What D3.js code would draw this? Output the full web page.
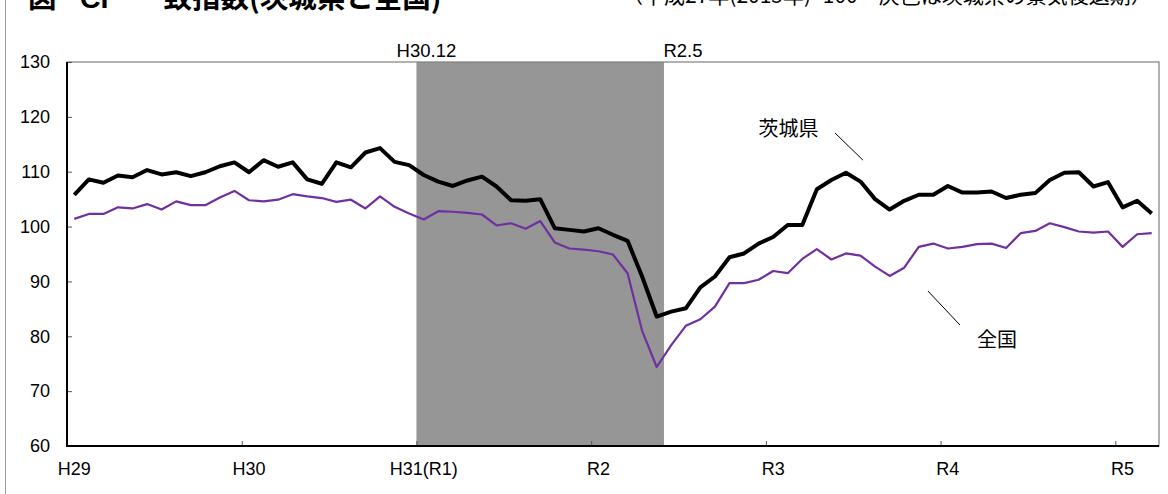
<!DOCTYPE html>
<html><head><meta charset="utf-8">
<script src="https://cdn.jsdelivr.net/npm/d3@7"></script>
<style>
html,body{margin:0;padding:0;background:#fff;}
svg{display:block;}
text{font-family:"Liberation Sans",Arial,"Noto Sans CJK JP",sans-serif;fill:#000;}
.jp{font-family:"Noto Sans CJK JP","Liberation Sans",sans-serif;}
</style>
</head><body>
<svg id="chart" width="1168" height="494"></svg>
<script>
// ---- data ----
const years = ["H29","H30","H31(R1)","R2","R3","R4","R5"];
const monthsPerYear = 12;
const nMonths = 75; // H29.1 .. R5.3
const categories = [];
years.forEach(y => { for (let m = 1; m <= monthsPerYear; m++) categories.push(y + "." + m); });
categories.length = nMonths;

const ibaraki = [105.8,108.6,108.0,109.3,109.0,110.3,109.5,109.9,109.2,109.9,111.0,111.7,
  109.9,112.1,110.9,111.7,108.6,107.8,111.7,110.8,113.5,114.3,111.8,111.2,
  109.4,108.2,107.4,108.4,109.1,107.3,104.8,104.7,105.0,99.7,99.4,99.1,
  99.7,98.5,97.4,90.9,83.6,84.5,85.1,88.9,90.9,94.4,95.1,96.9,
  98.1,100.3,100.3,106.8,108.5,109.8,108.2,105.0,103.1,104.7,105.8,105.8,
  107.4,106.2,106.2,106.4,105.2,105.8,106.1,108.5,109.8,109.9,107.3,108.1,
  103.5,104.7,102.4];
const national = [101.4,102.3,102.3,103.5,103.3,104.1,103.1,104.6,103.9,103.9,105.3,106.5,
  104.8,104.6,104.9,105.9,105.5,105.2,104.5,104.9,103.3,105.5,103.6,102.4,
  101.3,102.8,102.7,102.5,102.2,100.2,100.6,99.6,101.0,97.1,96.0,95.8,
  95.5,94.9,91.5,81.0,74.4,78.4,81.9,83.1,85.4,89.7,89.7,90.3,
  91.9,91.5,94.1,95.9,94.0,95.1,94.7,92.7,91.0,92.5,96.3,96.9,
  96.0,96.3,96.8,96.9,96.1,98.8,99.2,100.6,99.9,99.1,98.9,99.1,
  96.3,98.6,98.8];
const yTicks = [60,70,80,90,100,110,120,130];
const recession = {from: "H30.12", to: "R2.5"};
const recessionLabels = ["H30.12","R2.5"];
const title = ["図","CI","一致指数(茨城県と全国)"];
const subtitle = "（平成27年(2015年)=100　灰色は茨城県の景気後退期）";
const seriesNames = ["茨城県","全国"];

// ---- layout ----
const svg = d3.select("#chart");
const L = 67, R = 1159, T = 62, B = 446;

const x = d3.scaleBand().domain(categories).range([L, R]).paddingInner(0).paddingOuter(0);
const step = x.step();
const xc = c => x(c) + step / 2;
const xi = i => L + i * step; // position in month units (annotations)
const y = d3.scaleLinear().domain([60, 130]).range([B, T]);

// left frame line
svg.append("line").attr("x1",5.5).attr("x2",5.5).attr("y1",0).attr("y2",494)
  .attr("stroke","#9a9a9a").attr("stroke-width",1);

// title
svg.append("text").attr("class","jp").attr("x",28).attr("y",8).attr("font-size",28.5).attr("font-weight","bold").text(title[0]);
svg.append("text").attr("x",80).attr("y",8).attr("font-size",28.5).attr("font-weight","bold").text(title[1]);
svg.append("text").attr("class","jp").attr("x",135).attr("y",8).attr("font-size",28.5).attr("font-weight","bold").text(title[2]);
svg.append("text").attr("class","jp").attr("x",622).attr("y",2.5).attr("font-size",21).text(subtitle);

// recession shading
const s0 = x(recession.from) + step, s1 = x(recession.to) + step;
svg.append("rect").attr("x", s0).attr("y", T).attr("width", s1 - s0).attr("height", B - T).attr("fill", "#969696");
svg.append("text").attr("x", s0 + 10).attr("y", 56.5).attr("text-anchor","middle").attr("font-size",18.5).text(recessionLabels[0]);
svg.append("text").attr("x", s1 + 19).attr("y", 56.5).attr("text-anchor","middle").attr("font-size",18.5).text(recessionLabels[1]);

// frame (top/right)
svg.append("rect").attr("x", L).attr("y", T).attr("width", R - L).attr("height", B - T)
  .attr("fill","none").attr("stroke","#7f7f7f").attr("stroke-width",1.2);

// y axis
const yAxis = d3.axisRight(y).tickValues(yTicks).tickSize(5).tickFormat("");
const gy = svg.append("g").attr("transform",`translate(${L},0)`).call(yAxis);
gy.select(".domain").remove();
gy.selectAll("line").attr("stroke","#555").attr("stroke-width",1);
yTicks.forEach(v => {
  svg.append("text").attr("x",50).attr("y",y(v)).attr("dy","0.35em").attr("text-anchor","end").attr("font-size",18).text(v);
});

// x axis ticks at year boundaries
const yearStarts = years.map((yy,i) => categories[i*12]).filter(Boolean);
const xAxis = d3.axisTop(d3.scaleLinear().domain([L,R]).range([L,R]))
  .tickValues(yearStarts.map(c => x(c))).tickSize(5).tickFormat("");
const gx = svg.append("g").attr("transform",`translate(0,${B})`).call(xAxis);
gx.select(".domain").remove();
gx.selectAll("line").attr("stroke","#555").attr("stroke-width",1);
yearStarts.forEach((c,i) => {
  svg.append("text").attr("x", xc(c)).attr("y", 475).attr("text-anchor","middle").attr("font-size",18).text(years[i]);
});

// axes lines
svg.append("line").attr("x1",L).attr("x2",L).attr("y1",T).attr("y2",B+1).attr("stroke","#000").attr("stroke-width",2);
svg.append("line").attr("x1",L-1).attr("x2",R).attr("y1",B).attr("y2",B).attr("stroke","#000").attr("stroke-width",2);

// lines
const line = d3.line().x((d,i) => xc(categories[i])).y(d => y(d));
svg.append("path").datum(national).attr("d", line).attr("fill","none")
  .attr("stroke","#7030A0").attr("stroke-width",2.2).attr("stroke-linejoin","round");
svg.append("path").datum(ibaraki).attr("d", line).attr("fill","none")
  .attr("stroke","#000").attr("stroke-width",4).attr("stroke-linejoin","round");

// annotations (positioned in data space)
const annIbaraki = {i: 47.5, v: 116.5, l: [[52.75,117.05],[54.67,112.1]]};
const annNational = {i: 62.5, v: 78.1, l: [[59.13,88.25],[61.33,82.06]]};
[annIbaraki, annNational].forEach((a, k) => {
  svg.append("text").attr("class","jp").attr("x", xi(a.i)).attr("y", y(a.v)).attr("font-size",20).text(seriesNames[k]);
  svg.append("line").attr("x1", xi(a.l[0][0])).attr("y1", y(a.l[0][1]))
    .attr("x2", xi(a.l[1][0])).attr("y2", y(a.l[1][1])).attr("stroke","#000").attr("stroke-width",1);
});
</script>
</body></html>
